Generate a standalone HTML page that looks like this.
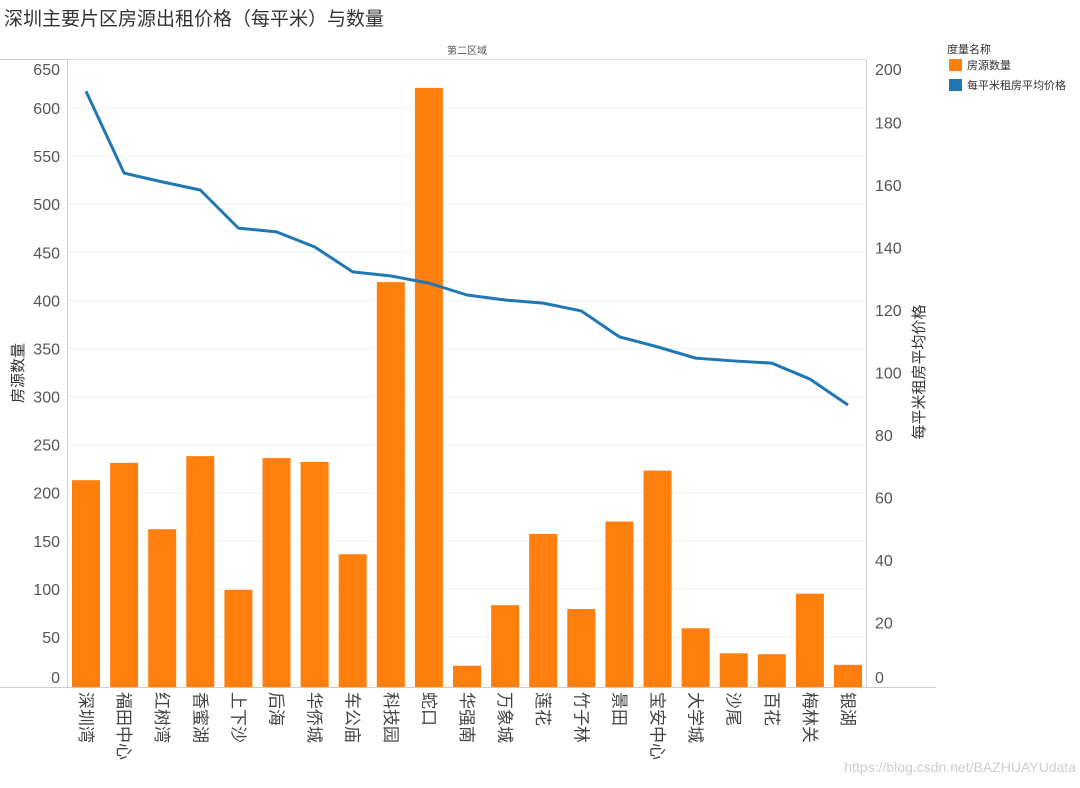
<!DOCTYPE html>
<html><head><meta charset="utf-8"><style>
body{margin:0;background:#fff;width:1080px;height:783px;overflow:hidden;font-family:"Liberation Sans","Noto Sans CJK SC",sans-serif;}
</style></head><body>
<svg id="chart" width="1080" height="783" xmlns="http://www.w3.org/2000/svg" font-family="Liberation Sans, Noto Sans CJK SC, sans-serif">
<text x="4" y="25" font-size="19" fill="#333">深圳主要片区房源出租价格（每平米）与数量</text>
<text x="467" y="54" font-size="10" fill="#555" text-anchor="middle">第二区域</text>
<line x1="0" y1="59.5" x2="866" y2="59.5" stroke="#ccc"/>
<g id="grid"></g>
<g id="bars"></g>
<g id="line"></g>
<line x1="67.5" y1="60" x2="67.5" y2="687" stroke="#d0d0d0"/>
<line x1="866.5" y1="60" x2="866.5" y2="687" stroke="#d0d0d0"/>
<line x1="0" y1="687.5" x2="936" y2="687.5" stroke="#ccc"/>
<g id="ly"></g>
<g id="ry"></g>
<g id="xl"></g>
<text transform="translate(23,373) rotate(-90)" font-size="15" fill="#333" text-anchor="middle">房源数量</text>
<text transform="translate(924,372) rotate(-90)" font-size="15" fill="#333" text-anchor="middle">每平米租房平均价格</text>
<g>
<text x="947" y="53" font-size="11" fill="#333">度量名称</text>
<rect x="949" y="59" width="13" height="12" fill="#ff7f0e"/>
<text x="967" y="69" font-size="11" fill="#333">房源数量</text>
<rect x="949" y="79" width="13" height="12" fill="#1f77b4"/>
<text x="967" y="89" font-size="11" fill="#333">每平米租房平均价格</text>
</g>
<text x="1076" y="772" font-size="14" fill="#ccc" text-anchor="end">https://blog.csdn.net/BAZHUAYUdata</text>
</svg>
<script>
const categories=["深圳湾","福田中心","红树湾","香蜜湖","上下沙","后海","华侨城","车公庙","科技园","蛇口","华强南","万象城","莲花","竹子林","景田","宝安中心","大学城","沙尾","百花","梅林关","银湖"];
const counts=[213,231,162,238,99,236,232,136,419,621,20,83,157,79,170,223,59,33,32,95,21];
const prices=[190,163.8,161,158.4,146.2,145,140.2,132.2,130.9,128.6,124.8,123.2,122.2,119.7,111.4,108.2,104.6,103.7,103,97.9,89.6];
const leftTicks=[0,50,100,150,200,250,300,350,400,450,500,550,600,650];
const rightTicks=[0,20,40,60,80,100,120,140,160,180,200];
const NS="http://www.w3.org/2000/svg";
const y0=685,yTop=60;
const yL=v=>y0-(v/650)*(y0-yTop);
const yR=v=>y0-(v/200)*(y0-yTop);
const xC=i=>86+i*38.1;
function mk(tag,attrs,parent){const e=document.createElementNS(NS,tag);for(const k in attrs)e.setAttribute(k,attrs[k]);parent.appendChild(e);return e;}
const grid=document.getElementById('grid'),ly=document.getElementById('ly'),ry=document.getElementById('ry');
leftTicks.forEach(t=>{
  const y=yL(t);
  const g=mk('line',{x1:68,x2:866,y1:y,y2:y,stroke:'#f0f0f0'},grid);
  
  
  let ty=y; if(t===650) ty=69; if(t===0) ty=677;
  const tx=mk('text',{x:60,y:ty+6,'font-size':16,fill:'#555','text-anchor':'end'},ly);
  tx.textContent=t;
  
  
});
rightTicks.forEach(t=>{
  let ty=yR(t); if(t===200) ty=69; if(t===0) ty=677;
  const tx=mk('text',{x:875,y:ty+6,'font-size':16,fill:'#555'},ry);
  tx.textContent=t;
  
  
});
const bars=document.getElementById('bars'),xl=document.getElementById('xl');
categories.forEach((c,i)=>{
  const x=xC(i),y=yL(counts[i]);
  const r=mk('rect',{x:x-14,y:y,width:28,height:687-y,fill:'#ff7f0e'},bars);
  
  
  const t=mk('text',{transform:`translate(${x-6},692) rotate(90)`,'font-size':17,fill:'#444'},xl);
  t.textContent=c;
  
  
});
const pts=prices.map((p,i)=>xC(i)+','+yR(p)).join(' ');
const pl=mk('polyline',{points:pts,fill:'none',stroke:'#1f77b4','stroke-width':3,'stroke-linejoin':'round'},document.getElementById('line'));


</script>
</body></html>
